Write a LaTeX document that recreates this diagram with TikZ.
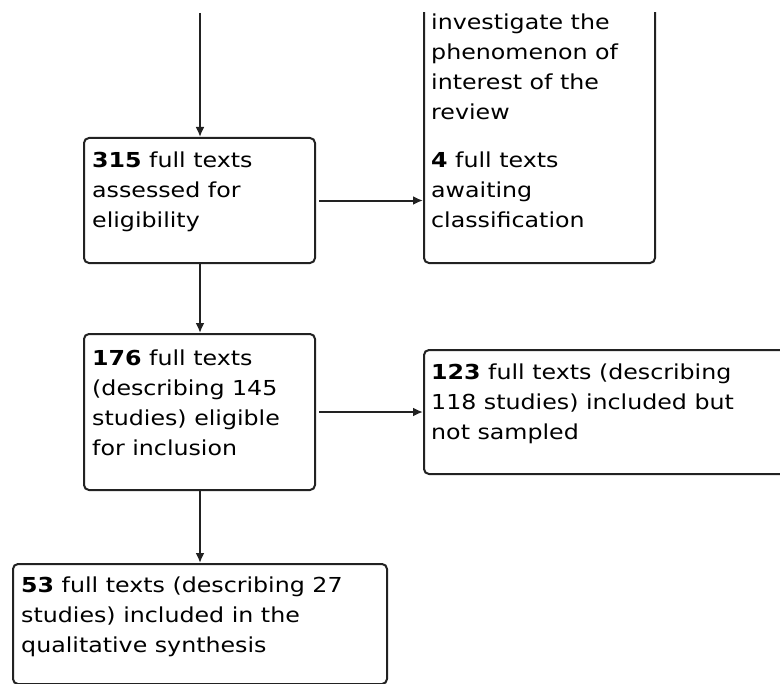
\documentclass[tikz,border=0pt]{standalone}
\usepackage{fontspec}
\setmainfont{DejaVu Sans}[FakeStretch=1.15]
\usetikzlibrary{arrows.meta}
\definecolor{linegray}{HTML}{222222}
\begin{document}
\begin{tikzpicture}[x=1bp,y=-1bp,
  box/.style={draw=linegray, line width=2bp, rounded corners=5bp,
    inner sep=0pt, anchor=north west},
  % multi-line texts are placed by the baseline of their last line
  txt/.style={anchor=base west, align=left, inner sep=0pt,
    font=\fontsize{20.7}{30.1}\selectfont},
  flow/.style={draw=linegray, line width=2bp,
    -{Latex[length=10bp,width=9bp]}}]
\useasboundingbox (0,0) rectangle (780,684);
\begin{scope}
\clip (0,13) rectangle (780,684);
% boxes
\node[box, minimum width=231bp, minimum height=125bp] (assess) at (83,137) {};
\node[box, minimum width=231bp, minimum height=362bp] (excl)   at (423,-100) {};
\node[box, minimum width=231bp, minimum height=156bp] (elig)   at (83,333) {};
\node[box, minimum width=400bp, minimum height=124bp] (notsamp) at (423,349) {};
\node[box, minimum width=374bp, minimum height=120bp] (synth)  at (12,563) {};
% texts
\node[txt] (t-assess) at (92,227) {\textbf{315} full texts\\assessed for\\eligibility};
\node[txt] (t-excl) at (431,227) {investigate the\\phenomenon of\\interest of the\\review\\[18bp]\textbf{4} full texts\\awaiting\\classification};
\node[txt] (t-elig) at (92,455) {\textbf{176} full texts\\(describing 145\\studies) eligible\\for inclusion};
\node[txt] (t-notsamp) at (431,439) {\textbf{123} full texts (describing\\118 studies) included but\\not sampled};
\node[txt] (t-synth) at (21,652) {\textbf{53} full texts (describing 27\\studies) included in the\\qualitative synthesis};
% connectors
\coordinate (src) at (200,13);
\draw[flow] (src) -- (src |- assess.north);
\draw[flow, shorten <=3bp] (assess.east) -- (assess.east -| excl.west);
\draw[flow] (assess.south -| src) -- (elig.north -| src);
\draw[flow, shorten <=3bp] (elig.east) -- (elig.east -| notsamp.west);
\draw[flow] (elig.south -| src) -- (synth.north -| src);
\end{scope}
\end{tikzpicture}
\end{document}
